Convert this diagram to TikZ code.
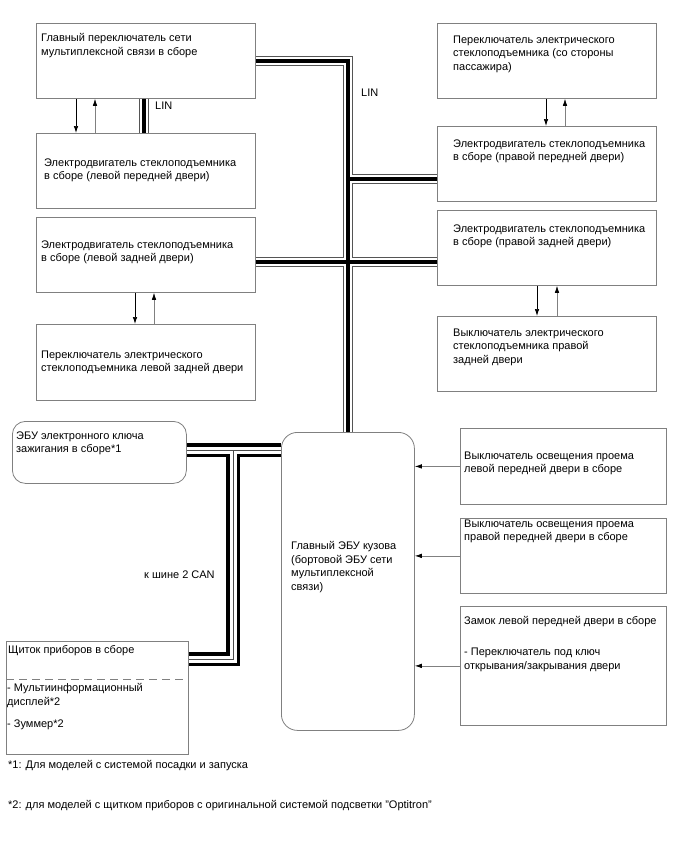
\documentclass[tikz,border=0pt]{standalone}
\usepackage{fontspec}
\setmainfont{Liberation Sans}
\usetikzlibrary{arrows.meta}
\definecolor{boxgray}{HTML}{808080}
\definecolor{lingray}{HTML}{555555}
\begin{document}
\begin{tikzpicture}[x=1pt,y=-1pt,
  box/.style={draw=boxgray, line width=0.8pt, anchor=north west, inner sep=0pt},
  txt/.style={anchor=north west, inner sep=0pt, align=left, font=\fontsize{11}{13.5}\selectfont, text=black, execute at begin node=\strut},
  arrd/.style={draw=black, line width=0.7pt, -{Latex[length=7pt,width=4.5pt]}},
  arru/.style={draw=boxgray, line width=0.7pt, -{Latex[length=7pt,width=4.5pt,color=black]}},
  linO/.style={draw=lingray, line width=10pt},
  linW/.style={draw=white, line width=8.4pt},
  linB/.style={draw=black, line width=4pt},
  canO/.style={draw=black, line width=14pt},
  canW/.style={draw=white, line width=7pt},
  canB/.style={draw=black!70, line width=0.8pt}
]
\useasboundingbox[fill=white] (0,0) rectangle (688,852);

% boxes
\node[box, minimum width=219pt, minimum height=75pt] (A) at (36,23) {};
\node[box, minimum width=219pt, minimum height=75pt] (B) at (36,133) {};
\node[box, minimum width=219pt, minimum height=75pt] (C) at (36,217) {};
\node[box, minimum width=219pt, minimum height=76pt] (D) at (36,324) {};
\node[box, minimum width=219pt, minimum height=75pt] (E) at (437,23) {};
\node[box, minimum width=219pt, minimum height=75pt] (F) at (437,126) {};
\node[box, minimum width=219pt, minimum height=75pt] (G) at (437,210) {};
\node[box, minimum width=219pt, minimum height=75pt] (H) at (437,316) {};
\node[box, minimum width=174pt, minimum height=62pt, rounded corners=13pt] (Key) at (12,421) {};
\node[box, minimum width=133pt, minimum height=298pt, rounded corners=16pt] (Mn) at (281,432) {};
\node[box, minimum width=206pt, minimum height=76pt] (I) at (460,428) {};
\node[box, minimum width=206pt, minimum height=75pt] (J) at (460,518) {};
\node[box, minimum width=206pt, minimum height=119pt] (K) at (460,606) {};
\node[box, minimum width=182pt, minimum height=113pt] (IC) at (6,641) {};
\draw[draw=boxgray, line width=0.8pt, dash pattern=on 8pt off 5pt]
  ([yshift=-38pt]IC.north west) -- ([yshift=-38pt]IC.north east);

% bus junction coordinates
\coordinate (j1) at (347.5,179);
\coordinate (j2) at (347.5,262);
\coordinate (lab) at (144,0);
\coordinate (c1) at (233,450);
\coordinate (c2) at (233,659);

% LIN bus
\foreach \st in {linO,linW,linB}{
  \draw[\st] (A.east) -| (Mn.north);
  \draw[\st] (j1) -- (F.west |- j1);
  \draw[\st] (C.east |- j2) -- (G.west |- j2);
  \draw[\st] (A.south -| lab) -- (B.north -| lab);
}
% CAN bus
\foreach \st in {canO,canW,canB}{
  \draw[\st] (Key.east |- c1) -- (Mn.west |- c1);
  \draw[\st] (c1) -- (c2) -- (IC.east |- c2);
}

% arrows
\draw[arrd] ([xshift=40pt]A.south west) -- ([xshift=40pt]B.north west);
\draw[arru] ([xshift=59pt]B.north west) -- ([xshift=59pt]A.south west);
\draw[arrd] ([xshift=99pt]C.south west) -- ([xshift=99pt]D.north west);
\draw[arru] ([xshift=118pt]D.north west) -- ([xshift=118pt]C.south west);
\draw[arrd] ([xshift=109pt]E.south west) -- ([xshift=109pt]F.north west);
\draw[arru] ([xshift=128pt]F.north west) -- ([xshift=128pt]E.south west);
\draw[arrd] ([xshift=100pt]G.south west) -- ([xshift=100pt]H.north west);
\draw[arru] ([xshift=120pt]H.north west) -- ([xshift=120pt]G.south west);
\draw[arru] (I.west) -- (I.west -| Mn.east);
\draw[arru] (J.west) -- (J.west -| Mn.east);
\draw[arru] (K.west) -- (K.west -| Mn.east);

% texts
\node[txt] (tA) at (41,33.5) {Главный переключатель сети\\мультиплексной связи в сборе};
\node[txt] (tB) at (44,158.5) {Электродвигатель стеклоподъемника\\в сборе (левой передней двери)};
\node[txt] (tC) at (41,240.5) {Электродвигатель стеклоподъемника\\в сборе (левой задней двери)};
\node[txt] (tD) at (41,350.5) {Переключатель электрического\\стеклоподъемника левой задней двери};
\node[txt] (tE) at (453,35.5) {Переключатель электрического\\стеклоподъемника (со стороны\\пассажира)};
\node[txt] (tF) at (453,139.5) {Электродвигатель стеклоподъемника\\в сборе (правой передней двери)};
\node[txt] (tG) at (453,224.5) {Электродвигатель стеклоподъемника\\в сборе (правой задней двери)};
\node[txt] (tH) at (453,328.5) {Выключатель электрического\\стеклоподъемника правой\\задней двери};
\node[txt] (tKey) at (16,431.5) {ЭБУ электронного ключа\\зажигания в сборе*1};
\node[txt] (tMn) at (291,541.5) {Главный ЭБУ кузова\\(бортовой ЭБУ сети\\мультиплексной\\связи)};
\node[txt] (tI) at (464,451.5) {Выключатель освещения проема\\левой передней двери в сборе};
\node[txt] (tJ) at (464,519.5) {Выключатель освещения проема\\правой передней двери в сборе};
\node[txt] (tK) at (464,616.5) {Замок левой передней двери в сборе\\[17.5pt]- Переключатель под ключ\\открывания/закрывания двери};
\node[txt] (tIC1) at (8,643.5) {Щиток приборов в сборе};
\node[txt] (tIC2) at (7,683.5) {- Мультиинформационный\\дисплей*2\\[8.5pt]- Зуммер*2};
\node[txt] (lin1) at (155,99.5) {LIN};
\node[txt] (lin2) at (361,86.5) {LIN};
\node[txt] (can) at (144,568.5) {к шине 2 CAN};
\node[txt] (f1) at (8,758.5) {*1: Для моделей с системой посадки и запуска};
\node[txt] (f2) at (8,798.5) {*2: для моделей с щитком приборов с оригинальной системой подсветки "Optitron"};
\end{tikzpicture}
\end{document}
